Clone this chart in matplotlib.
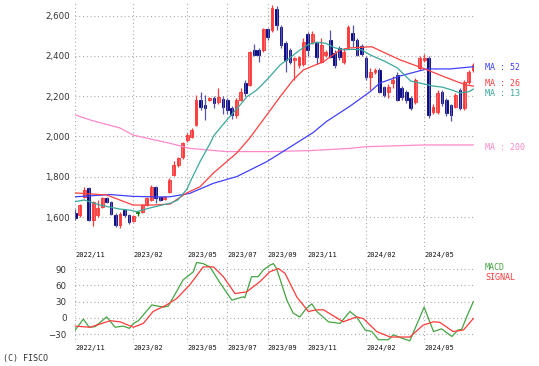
import numpy as np
import pandas as pd
import matplotlib
matplotlib.use("Agg")
import matplotlib.pyplot as plt

# weekly candles, first week 2022-11-07
opens = [1620, 1610, 1700, 1745, 1585, 1610, 1650, 1695, 1675, 1610,
         1560, 1635, 1610, 1580, 1620, 1625, 1660, 1685, 1750, 1700,
         1690, 1725, 1810, 1860, 1898, 1983, 1998, 2057, 2181, 2156,
         2181, 2191, 2171, 2186, 2181, 2141, 2107, 2181, 2265, 2255,
         2429, 2429, 2429, 2533, 2528, 2632, 2543, 2464, 2429, 2380,
         2355, 2360, 2510, 2470, 2463, 2370, 2405, 2478, 2415, 2440,
         2370, 2444, 2513, 2478, 2450, 2389, 2295, 2320, 2330, 2245,
         2221, 2265, 2305, 2240, 2221, 2191, 2171, 2340, 2380, 2389,
         2121, 2121, 2221, 2181, 2156, 2146, 2230, 2141, 2270, 2330]
highs = [1640, 1665, 1750, 1750, 1680, 1685, 1700, 1700, 1680, 1620,
         1625, 1640, 1615, 1610, 1630, 1665, 1700, 1760, 1755, 1705,
         1705, 1795, 1880, 1900, 1975, 2015, 2040, 2206, 2220, 2206,
         2195, 2200, 2240, 2200, 2190, 2150, 2190, 2240, 2280, 2425,
         2460, 2440, 2540, 2540, 2650, 2645, 2555, 2475, 2440, 2395,
         2400, 2490, 2520, 2525, 2470, 2490, 2430, 2530, 2430, 2450,
         2440, 2555, 2553, 2490, 2460, 2400, 2340, 2340, 2340, 2250,
         2260, 2300, 2320, 2250, 2230, 2200, 2290, 2400, 2410, 2400,
         2160, 2230, 2230, 2190, 2160, 2215, 2240, 2280, 2330, 2365]
lows = [1585, 1600, 1695, 1580, 1555, 1600, 1645, 1670, 1610, 1550,
        1545, 1600, 1565, 1575, 1605, 1620, 1655, 1680, 1670, 1680,
        1685, 1720, 1805, 1850, 1890, 1975, 1990, 2050, 2131, 2082,
        2175, 2140, 2160, 2110, 2110, 2085, 2090, 2175, 2200, 2250,
        2400, 2370, 2420, 2480, 2520, 2530, 2440, 2320, 2360, 2280,
        2340, 2350, 2400, 2460, 2360, 2365, 2395, 2390, 2340, 2380,
        2360, 2440, 2444, 2400, 2400, 2280, 2230, 2310, 2215, 2195,
        2190, 2240, 2175, 2180, 2165, 2130, 2160, 2330, 2370, 2090,
        2110, 2110, 2150, 2100, 2075, 2140, 2130, 2130, 2260, 2320]
closes = [1596, 1660, 1735, 1585, 1675, 1645, 1695, 1675, 1615, 1560,
          1615, 1610, 1575, 1605, 1620, 1660, 1695, 1750, 1695, 1685,
          1700, 1785, 1860, 1893, 1968, 2007, 2032, 2181, 2146, 2141,
          2191, 2166, 2196, 2146, 2131, 2107, 2181, 2221, 2216, 2419,
          2404, 2404, 2533, 2493, 2637, 2553, 2454, 2380, 2370, 2390,
          2395, 2470, 2430, 2510, 2395, 2455, 2420, 2395, 2355, 2395,
          2420, 2543, 2478, 2404, 2410, 2295, 2320, 2330, 2221, 2206,
          2245, 2280, 2181, 2196, 2181, 2141, 2280, 2389, 2390, 2107,
          2146, 2216, 2166, 2117, 2107, 2206, 2141, 2270, 2320, 2355]

# moving averages (week index, price)
ma13_x = [0, 2, 5.5, 7.7, 10, 12.2, 13.7, 16.6, 19.4, 21.4, 22.9, 25, 26, 28, 30, 31,
          34, 37, 38.3, 40.6, 42.8, 45.8, 48, 50, 52, 54, 56, 58, 60, 62, 64, 66,
          69, 72, 75, 77, 80, 82, 84, 86, 88, 89]
ma13_y = [1677, 1685, 1660, 1650, 1640, 1635, 1627, 1645, 1660, 1670, 1685, 1740, 1790,
          1880, 1960, 2005, 2085, 2160, 2196, 2231, 2280, 2355, 2390, 2425, 2455, 2468,
          2462, 2440, 2430, 2432, 2430, 2404, 2375, 2340, 2275, 2265, 2250, 2245, 2232,
          2216, 2222, 2235]
ma26_x = [0, 7, 12.9, 17.4, 21.2, 24.9, 27.9, 30.9, 36.1, 39.1, 42, 45.8, 48.7, 51,
          55.5, 59.2, 61.4, 66.3, 72.6, 77.8, 81.5, 85.3, 87.5, 89]
ma26_y = [1720, 1710, 1660, 1660, 1665, 1720, 1751, 1819, 1918, 1995, 2082, 2197, 2280,
          2330, 2371, 2429, 2439, 2445, 2380, 2338, 2305, 2272, 2255, 2250]
ma52_x = [0, 7.8, 12.9, 18.9, 21.2, 25.6, 30.9, 36.1, 42.8, 49.5, 53.2, 56.2, 61.4,
          65.9, 68.1, 72.6, 78.6, 83.8, 89]
ma52_y = [1701, 1712, 1703, 1700, 1701, 1718, 1768, 1801, 1875, 1968, 2020, 2075, 2150,
          2222, 2265, 2300, 2335, 2335, 2346]
ma200_x = [0, 3.3, 10, 12.9, 21.2, 25.6, 33.9, 43.5, 52.5, 61.4, 64.8, 77.8, 89]
ma200_y = [2107, 2082, 2042, 2007, 1966, 1941, 1925, 1925, 1930, 1941, 1949, 1958, 1958]

# MACD / signal
macd_x = [0, 1.8, 3.1, 4.4, 7.0, 8.9, 10.7, 12.1, 13.0, 14.1, 17.1, 19.7, 20.8, 24.1,
          26.4, 27.1, 28.6, 30.1, 32.4, 35.0, 37.6, 37.9, 39.4, 40.9, 42.0, 43.5, 44.3,
          45.0, 47.3, 48.7, 50.2, 51.7, 52.9, 54.0, 56.6, 59.2, 61.4, 62.9, 64.8, 66.3,
          67.8, 70.0, 71.1, 73.0, 74.8, 76.3, 78.0, 80.1, 81.9, 84.2, 85.6, 86.4, 87.5, 89]
macd_y = [-22, -2, -17, -16, 2, -17, -15, -19, -10, -5, 24, 20, 22, 70,
          85, 102, 100, 94, 64, 33, 39, 37, 76, 76, 88, 97, 100,
          91, 33, 9, 2, 18, 26, 12, -7, -10, 12, 2, -22, -25,
          -40, -40, -31, -37, -42, -13, 20, -25, -20, -34, -22, -21, 2, 30]
sig_x = [0, 3.3, 7.8, 10, 13, 15.2, 17.4, 20.4, 22.7, 25.6, 28.6, 30.9, 33.1, 35.7,
         38.3, 41.3, 43.5, 45.4, 46.9, 49.5, 52.1, 54.0, 55.5, 59.9, 62.9, 64.4, 67.4,
         70.4, 74.8, 77.8, 80.1, 81.5, 84.5, 86.8, 89]
sig_y = [-15, -17, -5, -7, -17, -10, 12, 24, 36, 61, 94, 94, 76, 45,
         48, 67, 85, 91, 82, 39, 12, 15, 15, -7, 2, -1, -25,
         -35, -35, -13, -7, -8, -25, -22, -1]

month_labels = ["2022/11", "2023/02", "2023/05", "2023/07", "2023/09", "2023/11",
                "2024/02", "2024/05"]

weeks = pd.date_range("2022-11-07", periods=len(opens), freq="W-MON")
wk = pd.Series(np.arange(len(weeks)), index=weeks.strftime("%Y/%m"))
tick_pos = [wk[m].min() for m in month_labels]

o = np.array(opens); h = np.array(highs); l = np.array(lows); c = np.array(closes)
idx = np.arange(len(o))

W, H = 539, 366
fig = plt.figure(figsize=(W / 100, H / 100), dpi=100)
ax = fig.add_axes([75 / W, 1 - 250 / H, 399 / W, 247 / H])
ax2 = fig.add_axes([75 / W, 1 - 343 / H, 399 / W, 81 / H])

grid_kw = dict(color="#9a9a9a", linestyle=(0, (0.8, 2.6)), linewidth=0.8)
for a in (ax, ax2):
    for s in a.spines.values():
        s.set_visible(False)
    a.set_xlim(-0.07, 89.15)
    a.set_xticks(tick_pos)
    a.grid(True, **grid_kw)
    a.set_axisbelow(True)
    a.tick_params(length=0)

# candles
up = c > o
dn = c < o
eq = c == o
ax.vlines(idx[up], l[up], h[up], color="#ff3a3a", lw=0.9)
ax.vlines(idx[dn], l[dn], h[dn], color="#5555aa", lw=0.9)
ax.vlines(idx[eq], l[eq], h[eq], color="#008000", lw=0.9)
body = np.maximum(np.abs(c - o), 5)
ax.bar(idx[up], body[up], bottom=o[up], width=0.62, color="#ff7070",
       edgecolor="#ff3030", linewidth=0.6)
ax.bar(idx[dn], body[dn], bottom=c[dn], width=0.62, color="#000080",
       edgecolor="#000080", linewidth=0.6)
ax.hlines(o[eq], idx[eq] - 0.4, idx[eq] + 0.4, color="#008000", lw=1.2)

ax.plot(ma200_x, ma200_y, color="#ff88cc", lw=0.9)
ax.plot(ma52_x, ma52_y, color="#4040ff", lw=0.9)
ax.plot(ma26_x, ma26_y, color="#ff4040", lw=0.9)
ax.plot(ma13_x, ma13_y, color="#3aa89c", lw=0.9)

ax.set_ylim(1437, 2662)
ax.set_yticks([1600, 1800, 2000, 2200, 2400, 2600])
ax.set_yticklabels([f"{v:,}" for v in [1600, 1800, 2000, 2200, 2400, 2600]])
ax.tick_params(axis="y", labelsize=6.2, labelcolor="#333333", pad=3.5)
ax.tick_params(axis="x", pad=1.5)
ax.set_xticklabels(month_labels, fontsize=5, family="DejaVu Sans Mono", color="#111111")
for t in ax.get_xticklabels():
    t.set_ha("left")

ax2.plot(macd_x, macd_y, color="#44a444", lw=0.9)
ax2.plot(sig_x, sig_y, color="#ff3a3a", lw=0.9)
ax2.set_ylim(-46, 103)
ax2.set_yticks([-30, 0, 30, 60, 90])
ax2.tick_params(axis="y", labelsize=6.2, labelcolor="#333333", pad=6)
ax2.tick_params(axis="x", pad=1.5)
ax2.set_xticklabels(month_labels, fontsize=5, family="DejaVu Sans Mono", color="#111111")
for t in ax2.get_xticklabels():
    t.set_ha("left")

lab = dict(family="DejaVu Sans Mono", fontsize=6, va="center", ha="left")
fig.text(485 / W, 1 - 68 / H, "MA : 52", color="#4040ff", **lab)
fig.text(485 / W, 1 - 84 / H, "MA : 26", color="#ff4040", **lab)
fig.text(485 / W, 1 - 93 / H, "MA : 13", color="#3aa89c", **lab)
fig.text(485 / W, 1 - 147 / H, "MA : 200", color="#ff88cc", **lab)
fig.text(485 / W, 1 - 267 / H, "MACD", color="#44a444", **lab)
fig.text(485 / W, 1 - 278 / H, "SIGNAL", color="#ff3a3a", **lab)
fig.text(3 / W, 1 - 358 / H, "(C) FISCO", color="#333333", **lab)

fig.savefig("out.png", dpi=100)
